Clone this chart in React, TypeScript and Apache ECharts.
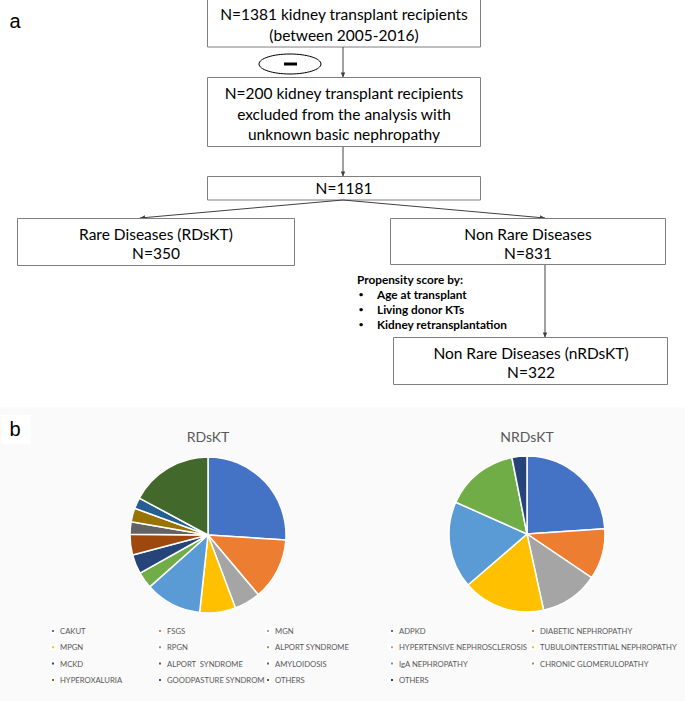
import React, { useEffect, useRef } from "react";
import * as echarts from "echarts";

// ---- data ----
const rdNames = [
  "CAKUT", "FSGS", "MGN", "MPGN", "RPGN", "ALPORT SYNDROME",
  "MCKD", "ALPORT  SYNDROME", "AMYLOIDOSIS", "HYPEROXALURIA", "GOODPASTURE SYNDROME", "OTHERS",
];
const rdValues = [91, 45, 19, 26, 41, 12, 14, 15, 9, 10, 8, 60];
const rdColors = [
  "#4472C4", "#ED7D31", "#A5A5A5", "#FFC000", "#5B9BD5", "#70AD47",
  "#264478", "#9E480E", "#636363", "#997300", "#255E91", "#43682B",
];

const nrdNames = [
  "ADPKD", "DIABETIC NEPHROPATHY", "HYPERTENSIVE NEPHROSCLEROSIS",
  "TUBULOINTERSTITIAL NEPHROPATHY", "IgA NEPHROPATHY", "CHRONIC GLOMERULOPATHY", "OTHERS",
];
const nrdValues = [77, 34, 39, 55, 58, 49, 10];
const nrdColors = ["#4472C4", "#ED7D31", "#A5A5A5", "#FFC000", "#5B9BD5", "#70AD47", "#264478"];

const pieTitles = ["RDsKT", "NRDsKT"];

// flowchart texts
const box1Text = ["N=1381 kidney transplant recipients", "(between 2005-2016)"];
const box2Text = ["N=200 kidney transplant recipients", "excluded from the analysis with", "unknown basic nephropathy"];
const box3Text = ["N=1181"];
const box4Text = ["Rare Diseases (RDsKT)", "N=350"];
const box5Text = ["Non Rare Diseases", "N=831"];
const box6Text = ["Non Rare Diseases (nRDsKT)", "N=322"];
const propensityTitle = "Propensity score by:";
const propensityItems = ["Age at transplant", "Living donor KTs", "Kidney retransplantation"];

const FONT = "Lato, 'Open Sans', sans-serif";

export default function App() {
  const ref = useRef<HTMLDivElement>(null);
  useEffect(() => {
    if (!ref.current) return;
    const chart = echarts.init(ref.current, null, { renderer: "svg" });

    const boxStroke = "#7F7F7F";
    const lineColor = "#404040";
    const FS = 15.5;

    const rect = (x: number, y: number, w: number, h: number, fill = "#fff", stroke = boxStroke) => ({
      type: "rect",
      shape: { x, y, width: w, height: h },
      style: { fill, stroke, lineWidth: 1 },
    });
    const txt = (text: string, x: number, y: number, size = FS, opts: any = {}) => ({
      type: "text",
      style: {
        text, x, y, align: opts.align || "center", verticalAlign: "middle",
        fontSize: size, fontFamily: opts.family || FONT, fontWeight: opts.weight || "normal",
        fill: opts.fill || "#000",
      },
    });
    const line = (x1: number, y1: number, x2: number, y2: number) => ({
      type: "line",
      shape: { x1, y1, x2, y2 },
      style: { stroke: lineColor, lineWidth: 1 },
    });
    const arrowHead = (x1: number, y1: number, x2: number, y2: number) => {
      const a = Math.atan2(y2 - y1, x2 - x1);
      const L = 5, W = 2.2;
      const bx = x2 - L * Math.cos(a), by = y2 - L * Math.sin(a);
      return {
        type: "polygon",
        shape: {
          points: [
            [x2, y2],
            [bx + W * Math.sin(a), by - W * Math.cos(a)],
            [bx - W * Math.sin(a), by + W * Math.cos(a)],
          ],
        },
        style: { fill: lineColor },
      };
    };
    const linesOf = (arr: string[], cx: number, y0: number, dy: number, size = FS) =>
      arr.map((t, i) => txt(t, cx, y0 + i * dy, size));

    const graphics: any[] = [
      // panel b background
      { type: "rect", shape: { x: 0, y: 407, width: 685, height: 294 }, style: { fill: "#FAFAFA" }, z: -10 },
      { type: "rect", shape: { x: 2, y: 415, width: 29, height: 29 }, style: { fill: "#FFFFFF" }, z: -5 },
      txt("a", 15, 21, 20, { family: "'Liberation Sans', Arial, sans-serif" }),
      txt("b", 15, 429, 20, { family: "'Liberation Sans', Arial, sans-serif" }),

      // boxes
      rect(207.5, -0.5, 273, 47.5),
      ...linesOf(box1Text, 344, 14, 21),
      { type: "ellipse", shape: { cx: 290, cy: 64, rx: 31, ry: 10 }, style: { fill: "#fff", stroke: "#000", lineWidth: 1 } },
      { type: "rect", shape: { x: 284, y: 62.5, width: 13, height: 3 }, style: { fill: "#000" } },
      line(343, 47, 343, 77),
      arrowHead(343, 47, 343, 77.5),
      rect(207.5, 77.5, 273, 69),
      ...linesOf(box2Text, 344, 93, 20.5),
      line(343, 147, 343, 176),
      arrowHead(343, 147, 343, 176.5),
      rect(207.5, 176.5, 273, 23.5),
      ...linesOf(box3Text, 344, 188, 20),
      line(343, 200, 140, 218),
      arrowHead(343, 200, 140, 218),
      line(343, 200, 545, 218),
      arrowHead(343, 200, 545, 218),
      rect(17.5, 218.5, 277, 47),
      ...linesOf(box4Text, 156, 234, 19),
      rect(390.5, 218.5, 275, 46),
      ...linesOf(box5Text, 528, 234, 19),
      line(545, 265, 545, 337),
      arrowHead(545, 265, 545, 337.5),
      rect(393.5, 337.5, 274, 47),
      ...linesOf(box6Text, 531, 353, 18.5),
      txt(propensityTitle, 357, 279, 11.8, { align: "left", weight: "bold" }),
      ...propensityItems.flatMap((t, i) => [
        txt("•", 361, 294 + i * 15, 8, { align: "center", weight: "bold" }),
        txt(t, 377, 294 + i * 15, 11.8, { align: "left", weight: "bold" }),
      ]),

      // pie titles
      txt(pieTitles[0], 208, 436, 14, { fill: "#595959" }),
      txt(pieTitles[1], 527, 436, 14, { fill: "#595959" }),
    ];

    const legendBase = {
      orient: "vertical",
      icon: "rect",
      itemWidth: 4,
      itemHeight: 4,
      itemGap: 4.3,
      itemTextGap: 4,
      selectedMode: false,
      padding: 0,
      textStyle: { fontSize: 7.7, color: "#595959", fontFamily: FONT, lineHeight: 12 },
    };
    const rdLegendItem = (i: number) => ({ name: rdNames[i], itemStyle: { color: rdColors[i] } });
    const nrdLegendItem = (i: number) => ({ name: nrdNames[i], itemStyle: { color: nrdColors[i] } });

    const rdCols = [[0, 3, 6, 9], [1, 4, 7, 10], [2, 5, 8, 11]];
    const rdColX = [50, 157, 265];
    const nrdCols = [[0, 2, 4, 6], [1, 3, 5]];
    const nrdColX = [389, 530];

    const legends: any[] = [
      ...rdCols.map((c, k) => ({ ...legendBase, left: rdColX[k], top: 625, data: c.map(rdLegendItem) })),
      ...nrdCols.map((c, k) => ({ ...legendBase, left: nrdColX[k], top: 625, data: c.map(nrdLegendItem) })),
    ];

    const pieBase = {
      type: "pie",
      radius: 78,
      startAngle: 90,
      clockwise: true,
      label: { show: false },
      labelLine: { show: false },
      emphasis: { disabled: true },
      itemStyle: { borderColor: "#FFFFFF", borderWidth: 1.5 },
    };

    chart.setOption({
      animation: false,
      graphic: graphics,
      legend: legends,
      series: [
        {
          ...pieBase,
          name: pieTitles[0],
          center: [208, 535],
          data: rdNames.map((n, i) => ({ name: n, value: rdValues[i], itemStyle: { color: rdColors[i] } })),
        },
        {
          ...pieBase,
          name: pieTitles[1],
          center: [527, 534],
          data: nrdNames.map((n, i) => ({ name: n, value: nrdValues[i], itemStyle: { color: nrdColors[i] } })),
        },
      ],
    });
    return () => chart.dispose();
  }, []);
  return <div ref={ref} style={{ position: "fixed", left: 0, top: 0, width: 685, height: 701, background: "#fff" }} />;
}
